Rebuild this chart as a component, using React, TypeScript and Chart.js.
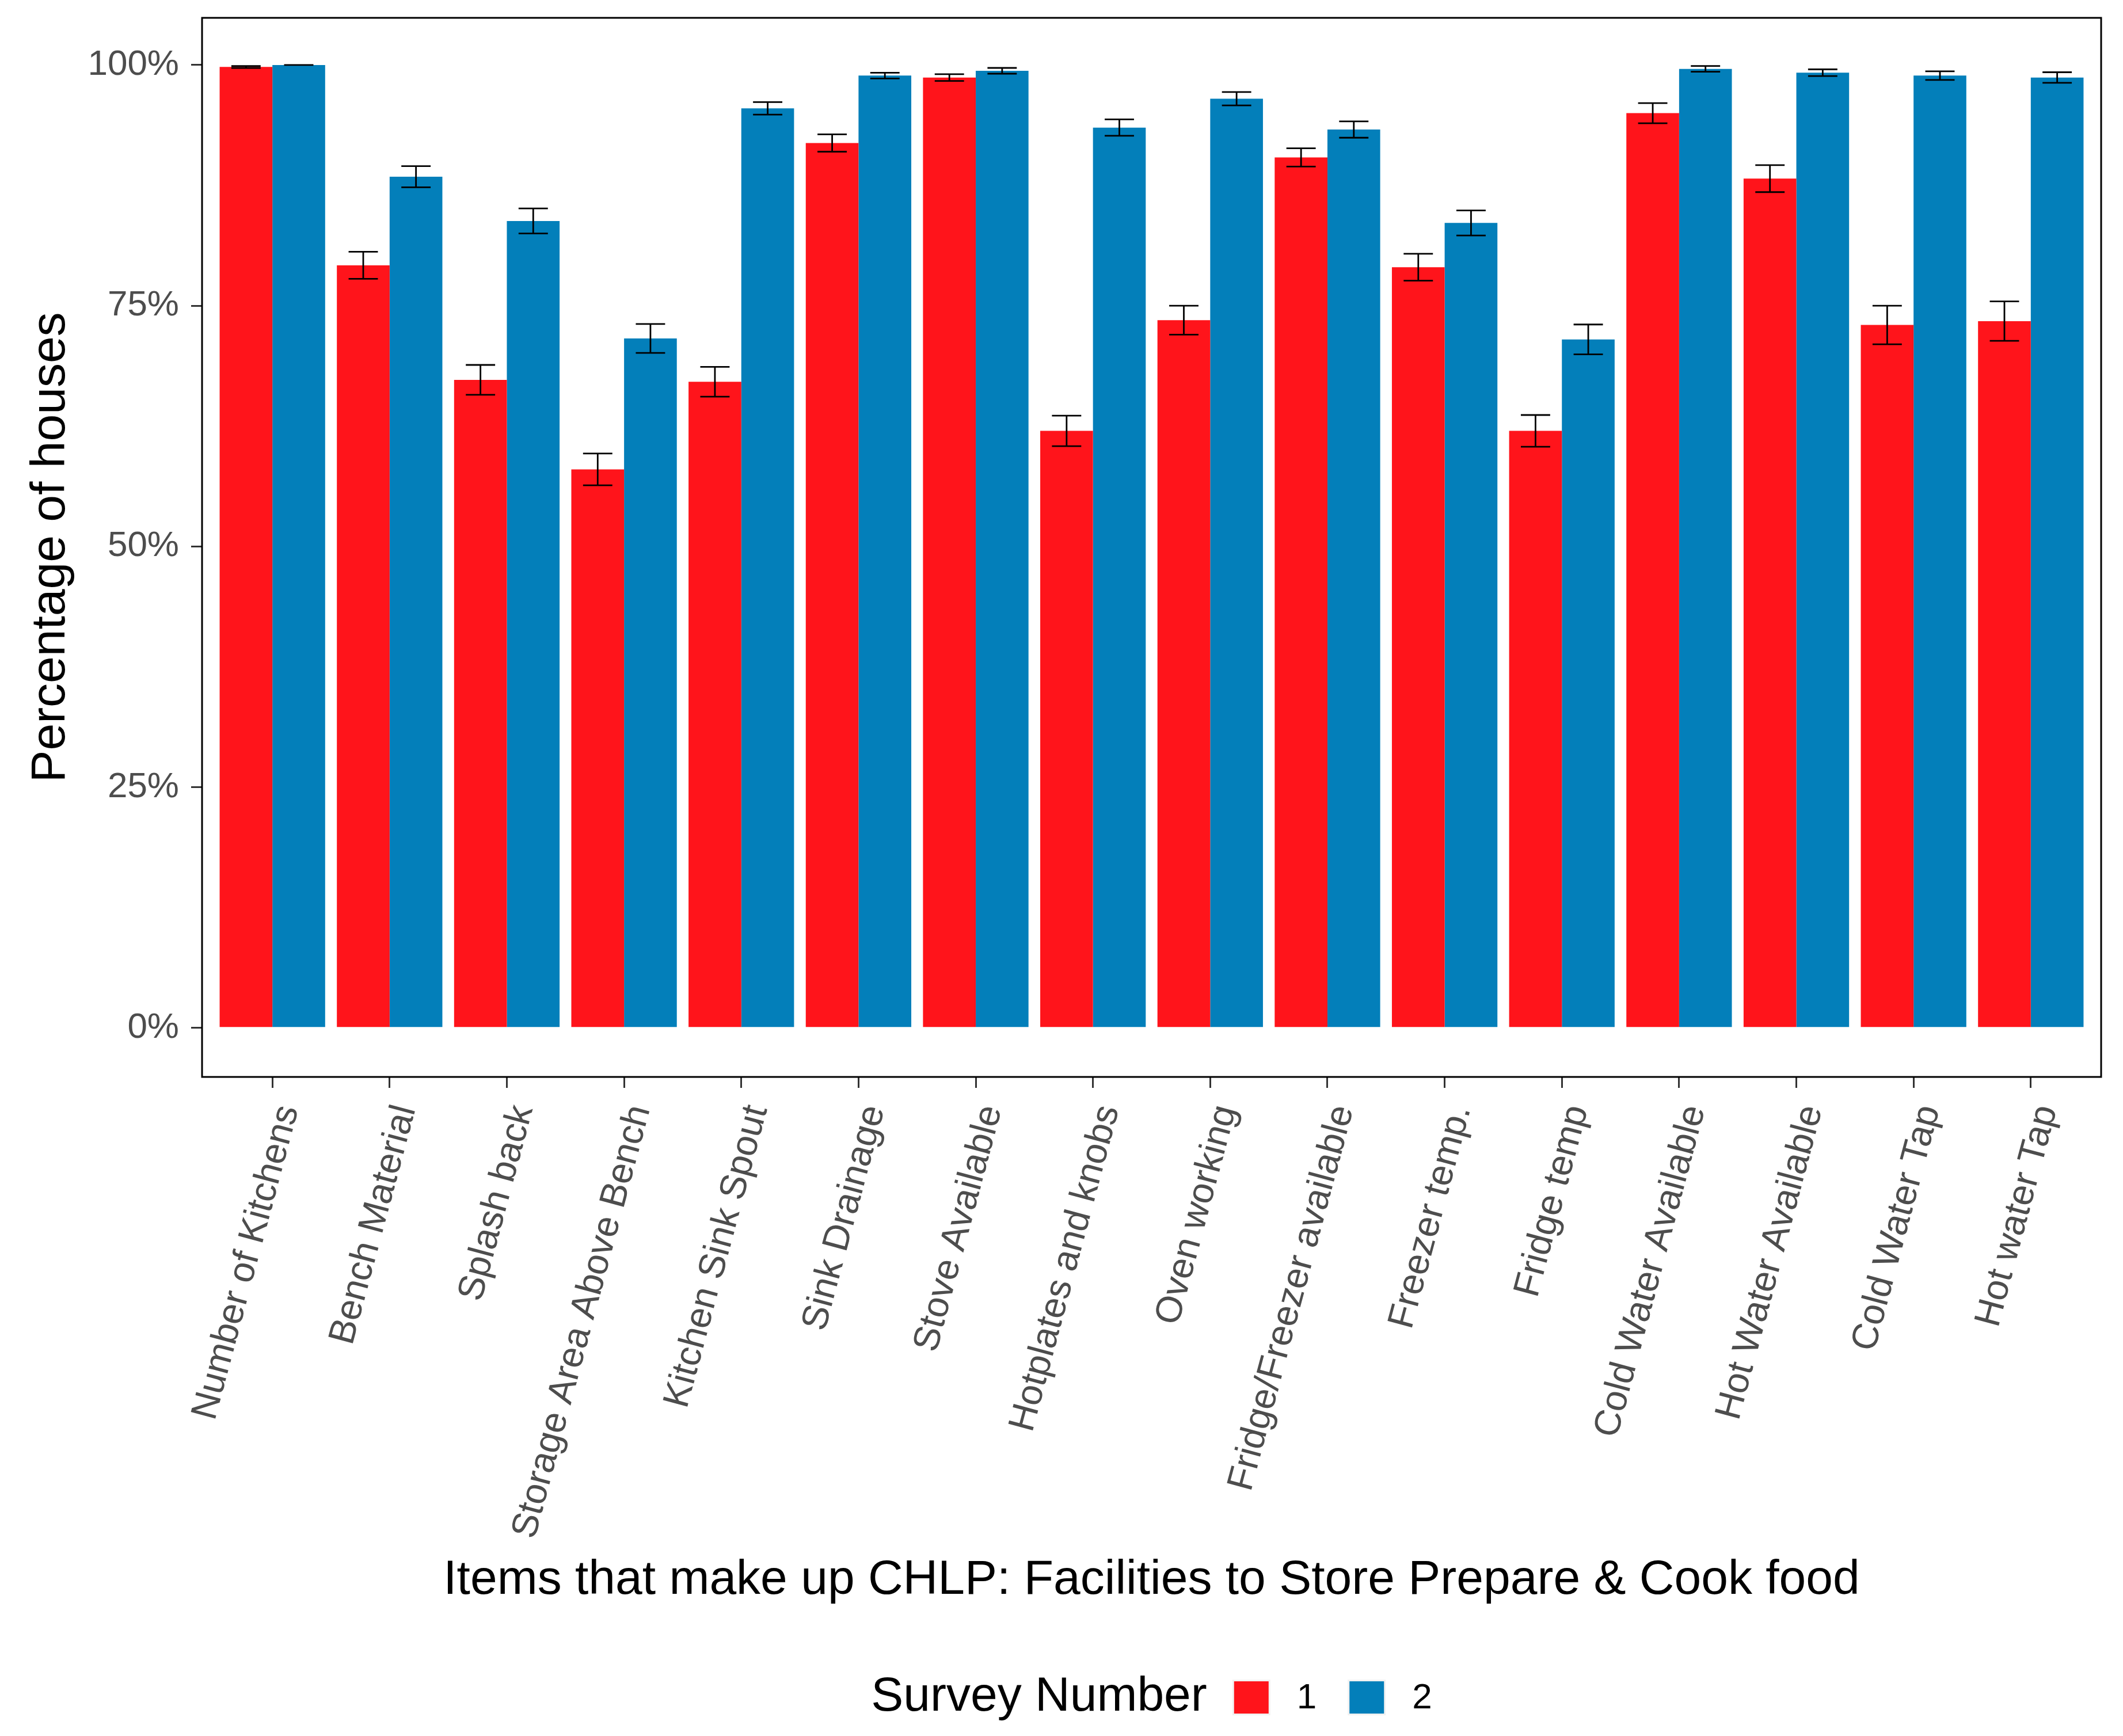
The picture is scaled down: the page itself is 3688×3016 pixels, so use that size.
import React, { useEffect, useRef } from "react";
import { Chart, registerables } from "chart.js";

Chart.register(...registerables);

const categories = [
  "Number of Kitchens",
  "Bench Material",
  "Splash back",
  "Storage Area Above Bench",
  "Kitchen Sink Spout",
  "Sink Drainage",
  "Stove Available",
  "Hotplates and knobs",
  "Oven working",
  "Fridge/Freezer available",
  "Freezer temp.",
  "Fridge temp",
  "Cold Water Available",
  "Hot Water Available",
  "Cold Water Tap",
  "Hot water Tap",
];

const seriesNames = ["1", "2"];
const survey1 = [99.8, 79.2, 67.3, 58.0, 67.1, 91.9, 98.7, 62.0, 73.5, 90.4, 79.0, 62.0, 95.0, 88.2, 73.0, 73.4];
const survey1Err = [0.1, 1.4, 1.55, 1.65, 1.55, 0.9, 0.35, 1.58, 1.5, 0.95, 1.4, 1.65, 1.05, 1.4, 2.0, 2.05];
const survey2 = [100, 88.4, 83.8, 71.6, 95.5, 98.9, 99.4, 93.5, 96.5, 93.3, 83.6, 71.5, 99.6, 99.2, 98.9, 98.7];
const survey2Err = [0.0, 1.1, 1.3, 1.5, 0.65, 0.3, 0.3, 0.85, 0.7, 0.85, 1.3, 1.55, 0.3, 0.35, 0.45, 0.55];
const yTicks = [0, 25, 50, 75, 100];

const colors = ["#FF141B", "#037FBA"];
const FONT = "'Liberation Sans', Arial, sans-serif";

const errorSets = [survey1Err, survey2Err];

const errorBarPlugin = {
  id: "errorBars",
  afterDatasetsDraw(chart: any) {
    const ctx = chart.ctx;
    const xs = chart.scales.x;
    const ys = chart.scales.y;
    const unit = xs.getPixelForValue(1) - xs.getPixelForValue(0);
    const capHalf = unit * 0.125;
    ctx.save();
    ctx.strokeStyle = "#000000";
    ctx.lineWidth = 2.8;
    chart.data.datasets.forEach((ds: any, d: number) => {
      const meta = chart.getDatasetMeta(d);
      const errs = errorSets[d];
      meta.data.forEach((bar: any, i: number) => {
        const v = ds.data[i].y;
        const e = errs[i];
        const x = bar.x;
        const yT = ys.getPixelForValue(v + e);
        const yB = ys.getPixelForValue(v - e);
        ctx.beginPath();
        ctx.moveTo(x, yT);
        ctx.lineTo(x, yB);
        ctx.moveTo(x - capHalf, yT);
        ctx.lineTo(x + capHalf, yT);
        ctx.moveTo(x - capHalf, yB);
        ctx.lineTo(x + capHalf, yB);
        ctx.stroke();
      });
    });
    ctx.restore();
  },
};

const panelBorderPlugin = {
  id: "panelBorder",
  afterDraw(chart: any) {
    const { ctx, chartArea } = chart;
    ctx.save();
    ctx.strokeStyle = "#000000";
    ctx.lineWidth = 3;
    ctx.strokeRect(chartArea.left, chartArea.top, chartArea.right - chartArea.left, chartArea.bottom - chartArea.top);
    ctx.restore();
  },
};

const legendPlugin = {
  id: "ggLegend",
  afterDraw(chart: any) {
    const { ctx, chartArea } = chart;
    const title = "Survey Number";
    const titleFont = `84px ${FONT}`;
    const labelFont = `62px ${FONT}`;
    const keyW = 66;
    const keyH = 62;
    const titleGap = 44;
    const labelGap = 46;
    const itemGap = 54;
    const yc = 2949;
    ctx.save();
    ctx.font = titleFont;
    const titleW = ctx.measureText(title).width;
    ctx.font = labelFont;
    const labelWs = seriesNames.map((s) => ctx.measureText(s).width);
    let total = titleW + titleGap;
    labelWs.forEach((w, i) => {
      total += keyW + labelGap + w + (i < labelWs.length - 1 ? itemGap : 0);
    });
    let x = (chartArea.left + chartArea.right) / 2 - total / 2;
    ctx.textBaseline = "middle";
    ctx.textAlign = "left";
    ctx.fillStyle = "#000000";
    ctx.font = titleFont;
    ctx.fillText(title, x, yc);
    x += titleW + titleGap;
    seriesNames.forEach((s, i) => {
      ctx.fillStyle = "#F2F2F2";
      ctx.fillRect(x, yc - keyH / 2, keyW, keyH);
      ctx.fillStyle = chart.data.datasets[i].backgroundColor;
      ctx.fillRect(x + 3, yc - keyH / 2 + 3, keyW - 6, keyH - 6);
      x += keyW + labelGap;
      ctx.fillStyle = "#000000";
      ctx.font = labelFont;
      ctx.fillText(s, x, yc + 2);
      x += labelWs[i] + itemGap;
    });
    ctx.restore();
  },
};

export default function App() {
  const canvasRef = useRef<HTMLCanvasElement | null>(null);

  useEffect(() => {
    document.body.style.margin = "0";
    document.body.style.overflow = "hidden";
    const canvas = canvasRef.current;
    if (!canvas) return;
    Chart.defaults.font.family = FONT;

    const datasets = [survey1, survey2].map((vals, d) => ({
      label: seriesNames[d],
      data: vals.map((v, i) => ({ x: i, y: v })),
      backgroundColor: colors[d],
      borderWidth: 0,
      categoryPercentage: 0.9,
      barPercentage: 1.0,
    }));

    const chart = new Chart(canvas, {
      type: "bar",
      data: { datasets },
      options: {
        animation: false,
        responsive: false,
        devicePixelRatio: 1,
        layout: { padding: { top: 31, right: 38, left: 0, bottom: 0 } },
        plugins: {
          legend: { display: false },
          tooltip: { enabled: false },
        },
        scales: {
          x: {
            type: "linear",
            min: -0.6,
            max: 15.6,
            bounds: "data",
            offset: false,
            afterBuildTicks: (scale: any) => {
              scale.ticks = categories.map((_, i) => ({ value: i }));
            },
            afterFit: (scale: any) => {
              scale.height = 3016 - 1871;
              scale.paddingLeft = 0;
              scale.paddingRight = 0;
            },
            border: { display: false },
            grid: {
              offset: false,
              drawOnChartArea: false,
              drawTicks: true,
              tickLength: 19,
              color: "#333333",
              lineWidth: 3,
            },
            ticks: {
              autoSkip: false,
              minRotation: 75,
              maxRotation: 75,
              padding: 22,
              labelOffset: 28,
              color: "#4D4D4D",
              font: { size: 64, family: FONT },
              callback: (v: any) => categories[v as number] ?? "",
            },
            title: {
              display: true,
              text: "Items that make up CHLP: Facilities to Store Prepare & Cook food",
              color: "#000000",
              font: { size: 84, family: FONT, lineHeight: 1.2 },
              padding: { top: 0, bottom: 220 },
            },
          },
          y: {
            type: "linear",
            min: -5.1,
            max: 104.9,
            afterBuildTicks: (scale: any) => {
              scale.ticks = yTicks.map((v) => ({ value: v }));
            },
            afterFit: (scale: any) => {
              scale.width = 351;
              scale.paddingTop = 0;
              scale.paddingBottom = 0;
            },
            border: { display: false },
            grid: {
              drawOnChartArea: false,
              drawTicks: true,
              tickLength: 19,
              color: "#333333",
              lineWidth: 3,
            },
            ticks: {
              padding: 21,
              color: "#4D4D4D",
              font: { size: 62, family: FONT },
              callback: (v: any) => `${v}%`,
            },
            title: {
              display: true,
              text: "Percentage of houses",
              color: "#000000",
              font: { size: 84, family: FONT, lineHeight: 1.2 },
              padding: { top: 38, bottom: 0 },
            },
          },
        },
      },
      plugins: [errorBarPlugin, panelBorderPlugin, legendPlugin],
    } as any);

    return () => {
      chart.destroy();
    };
  }, []);

  return (
    <canvas
      ref={canvasRef}
      width={3688}
      height={3016}
      style={{ display: "block", width: "3688px", height: "3016px" }}
    />
  );
}
